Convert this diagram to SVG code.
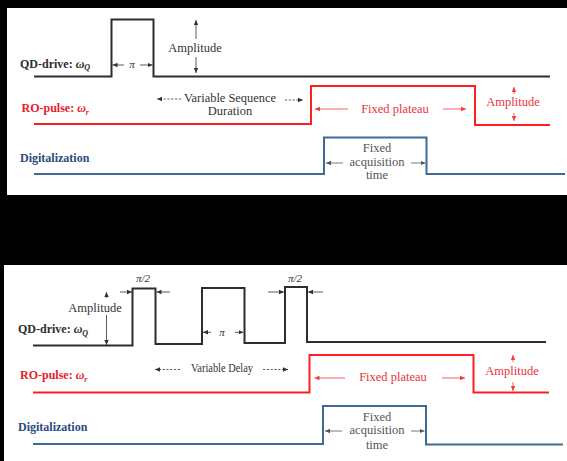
<svg xmlns="http://www.w3.org/2000/svg" width="567" height="461" viewBox="0 0 567 461">
<style>
.wave{fill:none;stroke-width:2;stroke-linejoin:miter}
.k{stroke:#2d2d2d}
.r{stroke:#ff1e1e}
.b{stroke:#3f6a98}
.ar{fill:none;stroke-width:0.8}
.ak{stroke:#333}
.ag{stroke:#555}
.ar-r{stroke:#f03a3a}
.dash{stroke-dasharray:2.2 1.6}
text{font-family:"Liberation Serif","Times New Roman",serif}
.lab{font-weight:bold;font-size:12px}
.t{font-size:12.5px;text-anchor:middle}
.tk{fill:#333}
.tr{fill:#e8343a}
.tg{fill:#555}
.pi{font-size:11px;font-style:italic;text-anchor:middle;fill:#333}
</style>
<defs>
<marker id="mk" markerUnits="userSpaceOnUse" markerWidth="6" markerHeight="6" refX="5" refY="3" orient="auto"><path d="M0,0.8 L5,3 L0,5.2 z" fill="#333"/></marker>
<marker id="mr" markerUnits="userSpaceOnUse" markerWidth="6" markerHeight="6" refX="5" refY="3" orient="auto"><path d="M0,0.8 L5,3 L0,5.2 z" fill="#f03a3a"/></marker>
<marker id="mg" markerUnits="userSpaceOnUse" markerWidth="6" markerHeight="6" refX="5" refY="3" orient="auto"><path d="M0,0.8 L5,3 L0,5.2 z" fill="#555"/></marker>
</defs>
<rect x="0" y="0" width="567" height="461" fill="#000"/>
<rect x="7" y="8" width="560" height="187" fill="#fff"/>
<rect x="4" y="265" width="563" height="196" fill="#fff"/>

<!-- TOP PANEL -->
<g id="top-qd-drive">
<text class="lab" x="20" y="67.5" fill="#2d2d2d">QD-drive: <tspan font-style="italic">ω</tspan><tspan font-style="italic" font-size="8" dy="2.5">Q</tspan></text>
<polyline class="wave k" points="34,76.5 111.5,76.5 111.5,19.5 153.5,19.5 153.5,76.5 550,76.5"/>
<text class="pi" x="132" y="68">π</text>
<text class="t tk" x="195" y="52">Amplitude</text>
</g>
<g id="top-ro-pulse">
<text class="lab" x="21.5" y="112" fill="#e8202a">RO-pulse: <tspan font-style="italic">ω</tspan><tspan font-style="italic" font-size="8" dy="2.5">r</tspan></text>
<polyline class="wave r" points="34,124 311,124 311,86 475,86 475,125 550,125"/>
<text class="t tk" x="230" y="101.5" font-size="11.5" textLength="92" lengthAdjust="spacingAndGlyphs">Variable Sequence</text>
<text class="t tk" x="230" y="114.5" font-size="11.5">Duration</text>
<text class="t tr" x="395" y="112.5">Fixed plateau</text>
<text class="t tr" x="513" y="106">Amplitude</text>
</g>
<g id="top-digitalization">
<text class="lab" x="20" y="162.3" fill="#2b4b7e">Digitalization</text>
<polyline class="wave b" points="34,174 324,174 324,137.5 426.5,137.5 426.5,174 565,174"/>
<text class="t tg" x="377" y="151.7">Fixed</text>
<text class="t tg" x="377" y="165.7">acquisition</text>
<text class="t tg" x="377" y="179">time</text>
</g>

<!-- BOTTOM PANEL -->
<g id="bottom-qd-drive">
<text class="lab" x="18" y="333.3" fill="#2d2d2d">QD-drive: <tspan font-style="italic">ω</tspan><tspan font-style="italic" font-size="8" dy="2.5">Q</tspan></text>
<polyline class="wave k" points="33,345.5 132.5,345.5 132.5,288.5 155.5,288.5 155.5,344 202,344 202,288 244.5,288 244.5,343 285,343 285,287 307,287 307,342 546,342"/>
<text class="pi" x="143" y="282" font-style="normal">π/2</text>
<text class="pi" x="222" y="335.5">π</text>
<text class="pi" x="295" y="282" font-style="normal">π/2</text>
<text class="t tk" x="95" y="311.7">Amplitude</text>
</g>
<g id="bottom-ro-pulse">
<text class="lab" x="20" y="379.3" fill="#e8202a">RO-pulse: <tspan font-style="italic">ω</tspan><tspan font-style="italic" font-size="8" dy="2.5">r</tspan></text>
<polyline class="wave r" points="33,392.5 309.5,392.5 309.5,355 473.5,355 473.5,392.5 549,392.5"/>
<text class="t tk" x="222" y="371.7" font-size="10" fill="#444" textLength="62" lengthAdjust="spacingAndGlyphs">Variable Delay</text>
<text class="t tr" x="393" y="381">Fixed plateau</text>
<text class="t tr" x="512" y="375">Amplitude</text>
</g>
<g id="bottom-digitalization">
<text class="lab" x="18" y="431" fill="#2b4b7e">Digitalization</text>
<polyline class="wave b" points="33,444 323,444 323,406 426,406 426,444.5 563,444.5"/>
<text class="t tg" x="377" y="420.7">Fixed</text>
<text class="t tg" x="377" y="434.3">acquisition</text>
<text class="t tg" x="377" y="449">time</text>
</g>

<g id="connectors">
<!-- top -->
<line class="ar ak" x1="124" y1="65" x2="112.5" y2="65" marker-end="url(#mk)"/>
<line class="ar ak" x1="140" y1="65" x2="152.5" y2="65" marker-end="url(#mk)"/>
<line class="ar ak" x1="196" y1="39" x2="196" y2="20" marker-end="url(#mk)"/>
<line class="ar ak" x1="196" y1="57" x2="196" y2="73" marker-end="url(#mk)"/>
<line class="ar ak dash" x1="181" y1="99" x2="157" y2="99" marker-end="url(#mk)"/>
<line class="ar ak dash" x1="285" y1="100" x2="303" y2="100" marker-end="url(#mk)"/>
<line class="ar ar-r" x1="348" y1="109" x2="315" y2="109" marker-end="url(#mr)"/>
<line class="ar ar-r" x1="443" y1="109" x2="466" y2="109" marker-end="url(#mr)"/>
<line class="ar ar-r" x1="514" y1="94" x2="514" y2="87" marker-end="url(#mr)"/>
<line class="ar ar-r" x1="514" y1="113" x2="514" y2="121" marker-end="url(#mr)"/>
<line class="ar ag" x1="343" y1="163" x2="326" y2="163" marker-end="url(#mg)"/>
<line class="ar ag" x1="411" y1="163" x2="425.5" y2="163" marker-end="url(#mg)"/>
<!-- bottom -->
<line class="ar ak" x1="120" y1="292" x2="132" y2="292" marker-end="url(#mk)"/>
<line class="ar ak" x1="170" y1="292" x2="156.5" y2="292" marker-end="url(#mk)"/>
<line class="ar ak" x1="268" y1="292" x2="284" y2="292" marker-end="url(#mk)"/>
<line class="ar ak" x1="323" y1="292" x2="308" y2="292" marker-end="url(#mk)"/>
<line class="ar ak" x1="211" y1="332.3" x2="203" y2="332.3" marker-end="url(#mk)"/>
<line class="ar ak" x1="235" y1="332.3" x2="243.5" y2="332.3" marker-end="url(#mk)"/>
<line class="ar ak" x1="106.5" y1="298" x2="106.5" y2="292" marker-end="url(#mk)"/>
<line class="ar ak" x1="106.5" y1="315" x2="106.5" y2="345" marker-end="url(#mk)"/>
<line class="ar ak dash" x1="180" y1="369.5" x2="155" y2="369.5" marker-end="url(#mk)"/>
<line class="ar ak dash" x1="263" y1="369.5" x2="288" y2="369.5" marker-end="url(#mk)"/>
<line class="ar ar-r" x1="345" y1="378" x2="314.5" y2="378" marker-end="url(#mr)"/>
<line class="ar ar-r" x1="442" y1="378" x2="465" y2="378" marker-end="url(#mr)"/>
<line class="ar ar-r" x1="513" y1="362" x2="513" y2="355" marker-end="url(#mr)"/>
<line class="ar ar-r" x1="513" y1="382" x2="513" y2="391" marker-end="url(#mr)"/>
<line class="ar ag" x1="342" y1="431" x2="325" y2="431" marker-end="url(#mg)"/>
<line class="ar ag" x1="411" y1="431" x2="424.5" y2="431" marker-end="url(#mg)"/>
</g>
</svg>
